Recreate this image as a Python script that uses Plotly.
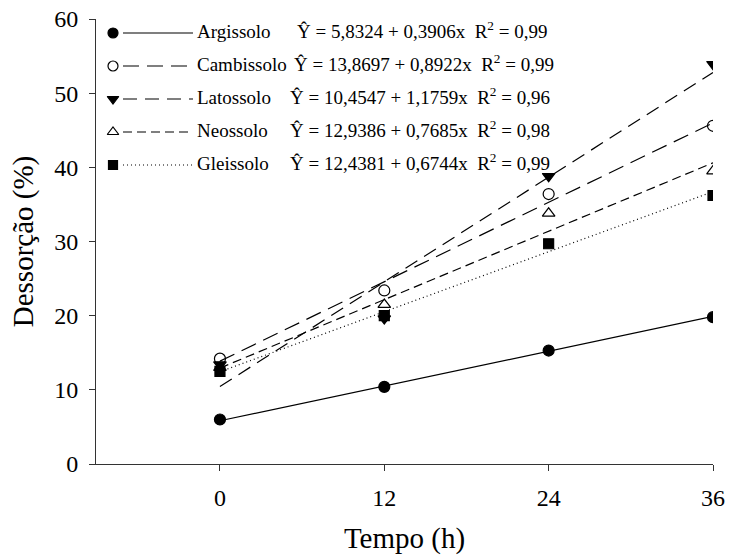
import plotly.graph_objects as go

# ---- data ----
tempo = [0, 12, 24, 36]
solos = ["Argissolo", "Cambissolo", "Latossolo", "Neossolo", "Gleissolo"]
argissolo = [6.0, 10.4, 15.3, 19.8]
cambissolo = [14.2, 23.4, 36.4, 45.6]
latossolo = [13.4, 19.6, 38.8, 53.9]
neossolo = [13.0, 21.5, 33.8, 39.5]
gleissolo = [12.5, 20.0, 29.7, 36.2]
intercepts = [5.8324, 13.8697, 10.4547, 12.9386, 12.4381]
slopes = [0.3906, 0.8922, 1.1759, 0.7685, 0.6744]
r2 = ["0,99", "0,99", "0,96", "0,98", "0,99"]
x_ticks = [0, 12, 24, 36]
y_ticks = [0, 10, 20, 30, 40, 50, 60]

series = [argissolo, cambissolo, latossolo, neossolo, gleissolo]

# ---- styles ----
FONT = '"Liberation Serif", "Times New Roman", serif'
symbols = ["circle", "circle-open", "triangle-down", "triangle-up-open", "square"]
dashes = ["solid", "16px,8px", "14px,8px", "9px,5px", "1px,3px"]
msize = [11, 11, 11, 11, 10]

# plot-area pixel geometry (for the hand-built legend)
L, R, T, B = 96, 713, 19, 464

fig = go.Figure()

def fmt(v):
    return f"{v:.4f}".replace(".", ",")

for i, name in enumerate(solos):
    b0, b1 = intercepts[i], slopes[i]
    xs = [tempo[0], tempo[-1]]
    ys = [b0 + b1 * xs[0], b0 + b1 * xs[1]]
    fig.add_trace(go.Scatter(x=xs, y=ys, mode="lines",
                             line=dict(color="black", width=1.2, dash=dashes[i]),
                             showlegend=False, hoverinfo="skip"))
    fig.add_trace(go.Scatter(x=tempo, y=series[i], mode="markers",
                             marker=dict(symbol=symbols[i], size=msize[i], color="black",
                                         line=dict(color="black", width=1.2)),
                             showlegend=False, name=name))

# ---- custom legend drawn on a pixel-coordinate overlay axis ----
row_y = [33, 66, 99, 132, 165]
eq_x = [300, 297, 293, 293, 293]
for i, name in enumerate(solos):
    fig.add_trace(go.Scatter(x=[123, 193], y=[row_y[i], row_y[i]], mode="lines",
                             line=dict(color="black", width=1.2, dash=dashes[i]),
                             xaxis="x2", yaxis="y2", showlegend=False, hoverinfo="skip"))
    fig.add_trace(go.Scatter(x=[113], y=[row_y[i]], mode="markers",
                             marker=dict(symbol=symbols[i], size=msize[i] - 1, color="black",
                                         line=dict(color="black", width=1.2)),
                             xaxis="x2", yaxis="y2", showlegend=False, hoverinfo="skip"))
    eq = (f"Ŷ = {fmt(intercepts[i])} + {fmt(slopes[i])}x  "
          f"R<sup>2</sup> = {r2[i]}")
    fig.add_trace(go.Scatter(x=[197, eq_x[i] - 3], y=[row_y[i], row_y[i]], mode="text",
                             text=[name, eq], textposition="middle right",
                             textfont=dict(family=FONT, size=19, color="black"),
                             xaxis="x2", yaxis="y2", showlegend=False, hoverinfo="skip",
                             cliponaxis=False))

fig.update_layout(
    width=729, height=555,
    margin=dict(l=L, r=729 - R, t=T, b=555 - B),
    paper_bgcolor="white", plot_bgcolor="white",
    font=dict(family=FONT, color="black"),
    xaxis=dict(range=[-9.05, 36], tickvals=x_ticks, ticks="outside", ticklen=6,
               tickcolor="#333", showline=True, linecolor="#333", linewidth=1,
               showgrid=False, zeroline=False, ticklabelstandoff=6, automargin=False,
               tickfont=dict(family=FONT, size=24),
               title=dict(text="Tempo (h)", font=dict(family=FONT, size=29), standoff=17)),
    yaxis=dict(range=[0, 60], tickvals=y_ticks, ticks="outside", ticklen=6,
               tickcolor="#333", showline=True, linecolor="#333", linewidth=1,
               showgrid=False, zeroline=False, ticklabelstandoff=6, automargin=False,
               tickfont=dict(family=FONT, size=24),
               title=dict(text="Dessorção (%)", font=dict(family=FONT, size=29), standoff=12)),
    xaxis2=dict(overlaying="x", anchor="y2", range=[L, R], visible=False),
    yaxis2=dict(overlaying="y", anchor="x2", range=[B, T], visible=False),
)

fig.write_html("out.html")
